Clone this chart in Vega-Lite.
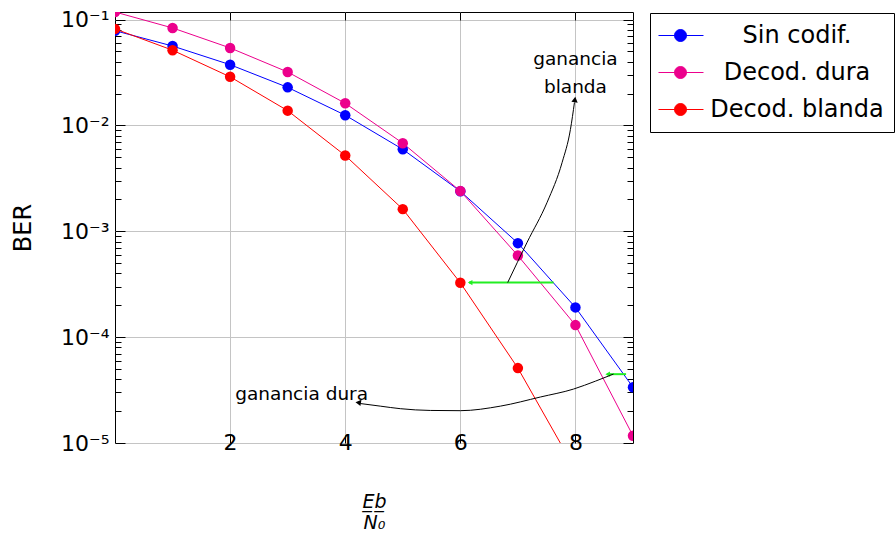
{
  "$schema": "https://vega.github.io/schema/vega-lite/v6.json",
  "width": 518,
  "height": 431,
  "autosize": {"type": "none"},
  "padding": {"left": 115, "top": 12, "right": 262, "bottom": 95},
  "background": "white",
  "config": {
    "view": {"stroke": "black", "strokeWidth": 1},
    "font": "DejaVu Sans",
    "axis": {
      "domainColor": "black",
      "tickColor": "black",
      "gridColor": "#C4C4C4",
      "gridWidth": 1,
      "labelFont": "DejaVu Sans",
      "labelFontSize": 21,
      "labelColor": "black",
      "titleColor": "black",
      "titleFont": "DejaVu Sans",
      "titleFontWeight": "normal"
    }
  },
  "datasets": {
    "series": [
      {"x": 0, "ber": 0.0786, "serie": "Sin codif."},
      {"x": 1, "ber": 0.0563, "serie": "Sin codif."},
      {"x": 2, "ber": 0.0375, "serie": "Sin codif."},
      {"x": 3, "ber": 0.0229, "serie": "Sin codif."},
      {"x": 4, "ber": 0.0125, "serie": "Sin codif."},
      {"x": 5, "ber": 0.00595, "serie": "Sin codif."},
      {"x": 6, "ber": 0.00239, "serie": "Sin codif."},
      {"x": 7, "ber": 0.000773, "serie": "Sin codif."},
      {"x": 8, "ber": 0.000191, "serie": "Sin codif."},
      {"x": 9, "ber": 0.0000336, "serie": "Sin codif."},
      {"x": 0, "ber": 0.118, "serie": "Decod. dura"},
      {"x": 1, "ber": 0.0834, "serie": "Decod. dura"},
      {"x": 2, "ber": 0.054, "serie": "Decod. dura"},
      {"x": 3, "ber": 0.032, "serie": "Decod. dura"},
      {"x": 4, "ber": 0.0162, "serie": "Decod. dura"},
      {"x": 5, "ber": 0.0068, "serie": "Decod. dura"},
      {"x": 6, "ber": 0.0024, "serie": "Decod. dura"},
      {"x": 7, "ber": 0.00059, "serie": "Decod. dura"},
      {"x": 8, "ber": 0.00013, "serie": "Decod. dura"},
      {"x": 9, "ber": 0.0000117, "serie": "Decod. dura"},
      {"x": 0, "ber": 0.0817, "serie": "Decod. blanda"},
      {"x": 1, "ber": 0.0514, "serie": "Decod. blanda"},
      {"x": 2, "ber": 0.0288, "serie": "Decod. blanda"},
      {"x": 3, "ber": 0.0138, "serie": "Decod. blanda"},
      {"x": 4, "ber": 0.0052, "serie": "Decod. blanda"},
      {"x": 5, "ber": 0.00162, "serie": "Decod. blanda"},
      {"x": 6, "ber": 0.000326, "serie": "Decod. blanda"},
      {"x": 7, "ber": 0.000051, "serie": "Decod. blanda"},
      {"x": 8, "ber": 0.0000056, "serie": "Decod. blanda"}
    ],
    "greens": [
      {"x": 6.15, "x2": 7.62, "ber": 0.000328},
      {"x": 8.55, "x2": 8.88, "ber": 0.0000447}
    ],
    "curves": [
      {"c": "blanda", "x": 6.823, "ber": 0.000328},
      {"c": "blanda", "x": 7.16, "ber": 0.000787},
      {"c": "blanda", "x": 7.508, "ber": 0.00188},
      {"c": "blanda", "x": 7.769, "ber": 0.00448},
      {"c": "blanda", "x": 7.913, "ber": 0.00917},
      {"c": "blanda", "x": 7.983, "ber": 0.0165},
      {"c": "dura", "x": 4.261, "ber": 0.0000236},
      {"c": "dura", "x": 4.609, "ber": 0.0000223},
      {"c": "dura", "x": 4.957, "ber": 0.0000211},
      {"c": "dura", "x": 5.478, "ber": 0.0000203},
      {"c": "dura", "x": 6.0, "ber": 0.0000202},
      {"c": "dura", "x": 6.696, "ber": 0.0000223},
      {"c": "dura", "x": 7.391, "ber": 0.0000272},
      {"c": "dura", "x": 7.965, "ber": 0.0000323},
      {"c": "dura", "x": 8.348, "ber": 0.0000384},
      {"c": "dura", "x": 8.661, "ber": 0.0000448}
    ],
    "headDura": [{"x": 4.226, "ber": 0.0000241}],
    "headBlanda": [{"x": 7.991, "ber": 0.01759}],
    "headGreen": [{"x": 6.17, "ber": 0.000328}, {"x": 8.56, "ber": 0.0000447}],
    "labels": [
      {"x": 8.0, "ber": 0.03763, "t": "ganancia"},
      {"x": 8.0, "ber": 0.02035, "t": "blanda"},
      {"x": 3.243, "ber": 0.0000255, "t": "ganancia dura"}
    ]
  },
  "resolve": {"axis": {"x": "independent", "y": "independent"}},
  "layer": [
    {
      "data": {"name": "series"},
      "mark": {"type": "line", "strokeWidth": 1, "clip": true},
      "encoding": {
        "x": {
          "field": "x", "type": "quantitative",
          "scale": {"domain": [0, 9], "nice": false, "zero": false},
          "axis": {
            "values": [2, 4, 6, 8],
            "grid": true,
            "domain": false,
            "tickSize": -8,
            "labelBaseline": "middle",
            "labelPadding": 7.5,
            "labelFlush": false,
            "labelFontSize": 22,
            "title": ["E̲b̲", "N₀"],
            "titleFontSize": 19,
            "titleFontStyle": "italic",
            "titleLineHeight": 21,
            "titlePadding": 39
          }
        },
        "y": {
          "field": "ber", "type": "quantitative",
          "scale": {"type": "log", "domain": [0.00001, 0.118], "nice": false},
          "axis": {
            "values": [0.00001, 0.00002, 0.00003, 0.00004, 0.00005, 0.00006, 0.00007, 0.00008, 0.00009,
                       0.0001, 0.0002, 0.0003, 0.0004, 0.0005, 0.0006, 0.0007, 0.0008, 0.0009,
                       0.001, 0.002, 0.003, 0.004, 0.005, 0.006, 0.007, 0.008, 0.009,
                       0.01, 0.02, 0.03, 0.04, 0.05, 0.06, 0.07, 0.08, 0.09, 0.1],
            "grid": true,
            "domain": false,
            "gridOpacity": {"condition": {"test": "abs(log(datum.value)/LN10 - round(log(datum.value)/LN10)) < 0.001", "value": 1}, "value": 0},
            "tickSize": {"condition": {"test": "abs(log(datum.value)/LN10 - round(log(datum.value)/LN10)) < 0.001", "value": -10}, "value": -6},
            "labelExpr": "abs(log(datum.value)/LN10 - round(log(datum.value)/LN10)) < 0.001 ? '10⁻' + ['⁰','¹','²','³','⁴','⁵','⁶'][-round(log(datum.value)/LN10)] : ''",
            "labelOverlap": false,
            "labelBaseline": "middle",
            "labelPadding": 16,
            "labelFontSize": 22,
            "title": "BER",
            "titleFontSize": 24,
            "titlePadding": 25
          }
        },
        "color": {
          "field": "serie", "type": "nominal",
          "scale": {"domain": ["Sin codif.", "Decod. dura", "Decod. blanda"], "range": ["#0000FF", "#EC008C", "#FF0000"]},
          "legend": {
            "title": null,
            "orient": "none",
            "legendX": 535,
            "legendY": 1,
            "padding": 10,
            "strokeColor": "black",
            "fillColor": "white",
            "cornerRadius": 0,
            "labelFontSize": 24,
            "labelColor": "black",
            "labelFont": "DejaVu Sans",
            "labelAlign": "center",
            "labelOffset": 112,
            "labelLimit": 400,
            "rowPadding": 12,
            "symbolType": "M-1.167,0H2.583M1.167,0A0.5,0.5,0,1,1,0.167,0A0.5,0.5,0,1,1,1.167,0Z",
            "symbolSize": 576,
            "symbolStrokeWidth": 1,
            "symbolOpacity": 1
          }
        }
      }
    },
    {
      "data": {"name": "series"},
      "mark": {"type": "point", "filled": true, "size": 110, "opacity": 1, "clip": true},
      "encoding": {
        "x": {"field": "x", "type": "quantitative", "axis": null},
        "y": {"field": "ber", "type": "quantitative", "axis": null},
        "color": {"field": "serie", "type": "nominal"}
      }
    },
    {
      "data": {"name": "greens"},
      "mark": {"type": "rule", "color": "#22EE22", "strokeWidth": 2},
      "encoding": {
        "x": {"field": "x", "type": "quantitative", "axis": null},
        "x2": {"field": "x2"},
        "y": {"field": "ber", "type": "quantitative", "axis": null}
      }
    },
    {
      "data": {"name": "headGreen"},
      "mark": {"type": "point", "shape": "triangle-left", "filled": true, "size": 28, "color": "#22EE22", "opacity": 1},
      "encoding": {
        "x": {"field": "x", "type": "quantitative", "axis": null},
        "y": {"field": "ber", "type": "quantitative", "axis": null}
      }
    },
    {
      "data": {"name": "curves"},
      "mark": {"type": "line", "color": "black", "strokeWidth": 1, "interpolate": "monotone"},
      "encoding": {
        "x": {"field": "x", "type": "quantitative", "axis": null},
        "y": {"field": "ber", "type": "quantitative", "axis": null},
        "detail": {"field": "c"}
      }
    },
    {
      "data": {"name": "headDura"},
      "mark": {"type": "point", "shape": "triangle-left", "angle": 9, "filled": true, "size": 40, "color": "black", "opacity": 1},
      "encoding": {
        "x": {"field": "x", "type": "quantitative", "axis": null},
        "y": {"field": "ber", "type": "quantitative", "axis": null}
      }
    },
    {
      "data": {"name": "headBlanda"},
      "mark": {"type": "point", "shape": "triangle-up", "angle": 8, "filled": true, "size": 40, "color": "black", "opacity": 1},
      "encoding": {
        "x": {"field": "x", "type": "quantitative", "axis": null},
        "y": {"field": "ber", "type": "quantitative", "axis": null}
      }
    },
    {
      "data": {"name": "labels"},
      "mark": {"type": "text", "fontSize": 18.5, "font": "DejaVu Sans", "color": "black", "baseline": "alphabetic", "align": "center"},
      "encoding": {
        "x": {"field": "x", "type": "quantitative", "axis": null},
        "y": {"field": "ber", "type": "quantitative", "axis": null},
        "text": {"field": "t"}
      }
    },
    {
      "data": {"name": "series"},
      "mark": {"type": "point", "opacity": 0},
      "encoding": {
        "x": {
          "field": "x", "type": "quantitative",
          "axis": {"orient": "top", "values": [2, 4, 6, 8], "labels": false, "grid": false, "domain": false, "tickSize": -8, "title": null}
        },
        "y": {
          "field": "ber", "type": "quantitative",
          "axis": {
            "orient": "right",
            "values": [0.00001, 0.00002, 0.00003, 0.00004, 0.00005, 0.00006, 0.00007, 0.00008, 0.00009,
                       0.0001, 0.0002, 0.0003, 0.0004, 0.0005, 0.0006, 0.0007, 0.0008, 0.0009,
                       0.001, 0.002, 0.003, 0.004, 0.005, 0.006, 0.007, 0.008, 0.009,
                       0.01, 0.02, 0.03, 0.04, 0.05, 0.06, 0.07, 0.08, 0.09, 0.1],
            "labels": false, "grid": false, "domain": false, "title": null,
            "tickSize": {"condition": {"test": "abs(log(datum.value)/LN10 - round(log(datum.value)/LN10)) < 0.001", "value": -10}, "value": -6}
          }
        }
      }
    }
  ]
}
